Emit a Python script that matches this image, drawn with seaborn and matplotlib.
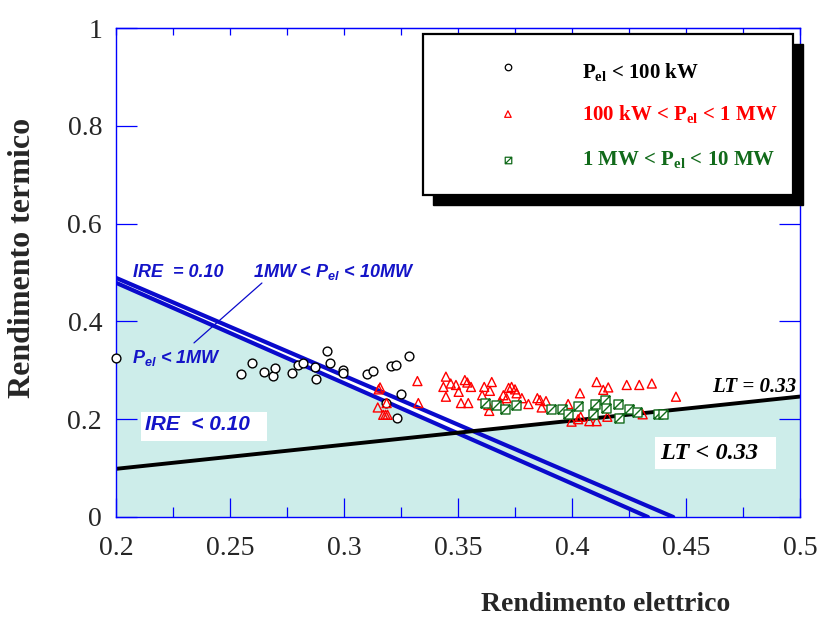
import numpy as np
import matplotlib
matplotlib.use("Agg")
import matplotlib.pyplot as plt
from matplotlib.path import Path
from matplotlib.patches import Rectangle
import seaborn as sns

# ---- measured points (electric efficiency, thermal efficiency) ----
small_x = [0.200, 0.2547, 0.2595, 0.2649, 0.2690, 0.2697, 0.2773, 0.2797, 0.2819,
           0.2873, 0.2876, 0.2924, 0.2937, 0.2996, 0.2997, 0.3100, 0.3126, 0.3184,
           0.3205, 0.3228, 0.3231, 0.3250, 0.3285]
small_y = [0.325, 0.292, 0.314, 0.297, 0.288, 0.304, 0.295, 0.311, 0.314,
           0.307, 0.282, 0.339, 0.314, 0.300, 0.294, 0.292, 0.299, 0.234,
           0.309, 0.311, 0.202, 0.252, 0.329]

mid_x = [0.3152, 0.3158, 0.3148, 0.3187, 0.3172, 0.3182, 0.3191, 0.3322, 0.3326,
         0.3447, 0.3436, 0.3447, 0.3468, 0.3491, 0.3503, 0.3530, 0.3541, 0.3557,
         0.3513, 0.3545, 0.3615, 0.3606, 0.3648, 0.3640, 0.3637, 0.3699, 0.3713,
         0.3722, 0.3735, 0.3750, 0.3757, 0.3684, 0.3633, 0.3780, 0.3809, 0.3848,
         0.3860, 0.3886, 0.3867, 0.3983, 0.4035, 0.4108, 0.4137, 0.4159, 0.4240,
         0.4295, 0.4350, 0.4456, 0.3998, 0.4038, 0.4027, 0.4076, 0.4108, 0.4155,
         0.4310]
mid_y = [0.261, 0.265, 0.224, 0.233, 0.209, 0.209, 0.209, 0.278, 0.233,
         0.287, 0.266, 0.246, 0.273, 0.270, 0.256, 0.280, 0.275, 0.266,
         0.233, 0.233, 0.266, 0.249, 0.276, 0.258, 0.217, 0.249, 0.243,
         0.264, 0.266, 0.261, 0.253, 0.236, 0.229, 0.243, 0.231, 0.243,
         0.239, 0.237, 0.224, 0.231, 0.253, 0.276, 0.260, 0.265, 0.270,
         0.270, 0.273, 0.246, 0.195, 0.205, 0.200, 0.196, 0.196, 0.205,
         0.210]

large_x = [0.3618, 0.3667, 0.3706, 0.3754, 0.3906, 0.3954, 0.3982, 0.4028, 0.4103,
           0.4143, 0.4150, 0.4093, 0.4200, 0.4206, 0.4251, 0.4283, 0.4377, 0.4400]
large_y = [0.2325, 0.229, 0.221, 0.229, 0.220, 0.221, 0.210, 0.227, 0.231,
           0.239, 0.222, 0.211, 0.231, 0.203, 0.221, 0.215, 0.211, 0.211]

# ---- reference lines ----
ire_low_x = [0.2, 0.4333]    # IRE = 0.10, Pel < 1MW
ire_low_y = [0.479, 0.0]
ire_high_x = [0.2, 0.4444]   # IRE = 0.10, 1MW < Pel < 10MW
ire_high_y = [0.489, 0.0]
lt_x = [0.2, 0.5]            # LT = 0.33
lt_y = [0.0985, 0.2463]

xticks = [0.2, 0.25, 0.3, 0.35, 0.4, 0.45, 0.5]
xtick_labels = ["0.2", "0.25", "0.3", "0.35", "0.4", "0.45", "0.5"]
yticks = [0, 0.2, 0.4, 0.6, 0.8, 1.0]
ytick_labels = ["0", "0.2", "0.4", "0.6", "0.8", "1"]

sns.set_style("white")
plt.rcParams["font.family"] = ["Liberation Serif", "DejaVu Serif"]
plt.rcParams["mathtext.fontset"] = "custom"
plt.rcParams["mathtext.rm"] = "Liberation Serif"
plt.rcParams["mathtext.bf"] = "Liberation Serif:bold"
plt.rcParams["mathtext.sf"] = "Liberation Sans:bold:italic"

BLUE = "#0000FF"
LINE_BLUE = "#0A0ACC"
TXT_BLUE = "#1414C8"
RED = "#FF0000"
GREEN = "#116A1A"
FILL = "#CDEDEA"

fig = plt.figure(figsize=(8.17, 6.18), dpi=100)
ax = fig.add_axes([116 / 817, 1 - 517 / 618, 684 / 817, 489 / 618])

# shaded region below the two limits
grid = np.linspace(0.2, 0.5, 601)
upper = np.maximum(np.interp(grid, ire_low_x, ire_low_y, right=0.0),
                   np.interp(grid, lt_x, lt_y))
ax.fill_between(grid, 0, upper, color=FILL, lw=0, zorder=0)

sns.lineplot(x=ire_high_x, y=ire_high_y, ax=ax, color=LINE_BLUE, lw=3.0, zorder=2)
sns.lineplot(x=ire_low_x, y=ire_low_y, ax=ax, color=LINE_BLUE, lw=3.0, zorder=2)
sns.lineplot(x=lt_x, y=lt_y, ax=ax, color="black", lw=2.8, zorder=2)

# square marker with a diagonal
sq_diag = Path([(-1, -1), (1, -1), (1, 1), (-1, 1), (-1, -1), (-1, -1), (1, 1)],
               [Path.MOVETO, Path.LINETO, Path.LINETO, Path.LINETO, Path.CLOSEPOLY,
                Path.MOVETO, Path.LINETO])

sns.scatterplot(x=small_x, y=small_y, ax=ax, marker="o", s=40, color="black",
                facecolor="white", edgecolor="black", linewidth=1.0, zorder=3,
                clip_on=False)
sns.scatterplot(x=mid_x, y=mid_y, ax=ax, marker="^", s=42, color=RED,
                facecolor="none", edgecolor=RED, linewidth=1.0, zorder=4)
sns.scatterplot(x=large_x, y=large_y, ax=ax, marker=sq_diag, s=42, color=GREEN,
                facecolor="white", edgecolor=GREEN, linewidth=1.0, zorder=5)

# annotation texts
sans_bi = dict(family="Liberation Sans", weight="bold", style="italic", color=TXT_BLUE)
ax.text(0.2075, 0.491, "IRE  = 0.10", fontsize=13, **sans_bi)
ax.text(0.2600, 0.491, r"1MW < P$_{\mathsf{el}}$ < 10MW", fontsize=13, **sans_bi)
ax.text(0.2070, 0.315, r"P$_{\mathsf{el}}$ < 1MW", fontsize=13, **sans_bi)
ax.plot([0.264, 0.2342], [0.4785, 0.356], color=LINE_BLUE, lw=0.9, zorder=2)

ax.add_patch(Rectangle((0.211, 0.155), 0.0552, 0.060, facecolor="white",
                       edgecolor="none", zorder=6))
ax.text(0.2127, 0.178, "IRE  < 0.10", fontsize=15, zorder=7, **sans_bi)

ax.text(0.4614, 0.2556, "LT = 0.33", fontsize=15, weight="bold", style="italic",
        color="black", zorder=7)
ax.add_patch(Rectangle((0.4364, 0.098), 0.0531, 0.066, facecolor="white",
                       edgecolor="none", zorder=6))
ax.text(0.4385, 0.1186, "LT < 0.33", fontsize=17.5, weight="bold", style="italic",
        color="black", zorder=7)

# legend box with solid shadow
bx0, by0, bw, bh = 0.449, 0.658, 0.541, 0.330
ax.add_patch(Rectangle((bx0 + 0.0146, by0 - 0.0204), bw, bh, transform=ax.transAxes,
                       facecolor="black", edgecolor="black", zorder=10, clip_on=False))
ax.add_patch(Rectangle((bx0, by0), bw, bh, transform=ax.transAxes,
                       facecolor="white", edgecolor="black", lw=1.6, zorder=11,
                       clip_on=False))
mk_x = 0.573
txt_x = 0.681
ax.scatter([mk_x], [0.920], transform=ax.transAxes, marker="o", s=22,
           facecolor="white", edgecolor="black", lw=0.9, zorder=12, clip_on=False)
ax.scatter([mk_x], [0.824], transform=ax.transAxes, marker="^", s=22,
           facecolor="none", edgecolor=RED, lw=0.9, zorder=12, clip_on=False)
ax.scatter([mk_x], [0.730], transform=ax.transAxes, marker=sq_diag, s=22,
           facecolor="white", edgecolor=GREEN, lw=0.9, zorder=12, clip_on=False)
leg_kw = dict(transform=ax.transAxes, fontsize=15, weight="bold", zorder=12,
              va="baseline")
ax.text(txt_x, 0.896, r"P$_{\mathbf{el}}$ < 100 kW", color="black", **leg_kw)
ax.text(txt_x, 0.812, r"100 kW < P$_{\mathbf{el}}$ < 1 MW", color=RED, **leg_kw)
ax.text(txt_x, 0.718, r"1 MW < P$_{\mathbf{el}}$ < 10 MW", color=GREEN, **leg_kw)

# axes, ticks, labels
ax.set_xlim(0.2, 0.5)
ax.set_ylim(0, 1)
ax.set_xticks(xticks)
ax.set_xticklabels(xtick_labels)
ax.set_xticks(np.arange(0.225, 0.5, 0.05), minor=True)
ax.set_yticks(yticks)
ax.set_yticklabels(ytick_labels)
for sp in ax.spines.values():
    sp.set_color(BLUE)
    sp.set_linewidth(1.0)
    sp.set_visible(True)
ax.tick_params(axis="x", which="major", direction="in", length=14, width=0.9,
               color=BLUE, labelsize=20, pad=14, bottom=True, top=False)
ax.tick_params(axis="x", which="minor", direction="in", length=7, width=0.9,
               color=BLUE, bottom=True, top=False)
ax.tick_params(axis="y", which="major", direction="in", length=15, width=0.9,
               color=BLUE, labelsize=20, pad=10, left=True, right=True)

top = ax.secondary_xaxis("top")
top.set_xticks(np.arange(0.2, 0.5001, 0.025))
top.tick_params(direction="in", length=5, width=0.9, color=BLUE, labeltop=False)
top.spines["top"].set_color(BLUE)

ax.set_xlabel("Rendimento elettrico", fontsize=20, weight="bold", va="center")
ax.xaxis.set_label_coords(0.716, -0.178)
ax.set_ylabel("Rendimento termico", fontsize=23, weight="bold", va="center")
ax.yaxis.set_label_coords(-0.137, 0.53)

fig.savefig("out.png", dpi=100)
